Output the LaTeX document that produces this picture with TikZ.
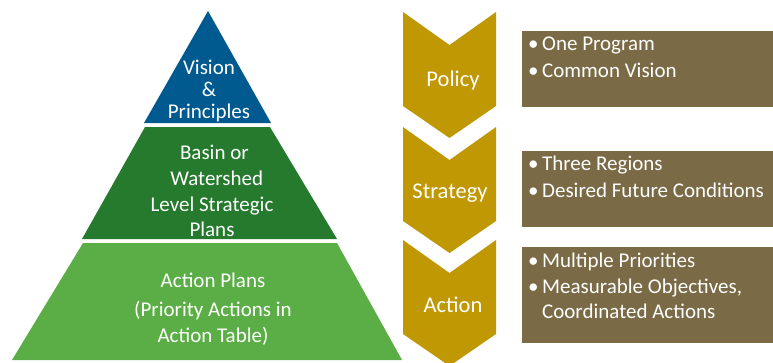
\documentclass[tikz,border=0pt]{standalone}
\usepackage{fontspec}
\setmainfont{Carlito}
\definecolor{tierblue}{RGB}{0,90,143}
\definecolor{tierdark}{RGB}{38,122,46}
\definecolor{tierlight}{RGB}{91,174,69}
\definecolor{chevgold}{RGB}{191,152,3}
\definecolor{boxbrown}{RGB}{122,106,69}
\tikzset{%
    tiertext/.style={%
        text=white, align=center,
        font=\fontsize{21}{25.7}\selectfont
    },
    chevtext/.style={%
        text=white, font=\fontsize{22.5}{27}\selectfont
    },
    bullettext/.style={%
        text=white, anchor=west, inner sep=0pt,
        text height=0.7em, text depth=0.2em,
        font=\fontsize{21}{26}\selectfont
    }
}
\newcommand{\bul}{\textbullet\kern3.5pt}

\begin{document}
\begin{tikzpicture}[x=1pt, y=-1pt]
\clip (0,0) rectangle (773,362);
% pyramid
\fill[tierblue] (208,11) -- (271,123) -- (144,123) -- cycle;
\fill[tierdark] (145,127) -- (270,127) -- (337,239) -- (82,239) -- cycle;
\fill[tierlight] (83,243) -- (337,243) -- (402,360) -- (12,360) -- cycle;
\node[tiertext, font=\fontsize{21}{22}\selectfont] (vision) at (209,91) {Vision\\\&\\Principles};
\node[tiertext] (basin) at (212,191) {\ Basin or\\\ \ Watershed\\Level Strategic\\Plans};
\node[tiertext] (actionplans) at (213,309) {Action Plans\\[3pt](Priority Actions in\\Action Table)};
% chevrons
\foreach \t/\lab/\nm/\cx/\cy in {12/Policy/policy/453/80,
                                 127/Strategy/strategy/450/193,
                                 240/Action/action/453/305} {
    \fill[chevgold] (403,\t) -- (449.5,\t+33) -- (496,\t)
        -- (496,\t+94) -- (449.5,\t+126) -- (403,\t+94) -- cycle;
    \node[chevtext] (\nm) at (\cx,\cy) {\lab};
}
% boxes
\fill[boxbrown] (522,31) rectangle (773,107);
\fill[boxbrown] (522,151) rectangle (773,227);
\fill[boxbrown] (522,247) rectangle (773,343);
\node[bullettext] (oneprog) at (528,48) {\bul One Program};
\node[bullettext] (commonvis) at (528,75) {\bul Common Vision};
\node[bullettext] (threereg) at (528,168) {\bul Three Regions};
\node[bullettext] (desired) at (528,195) {\bul Desired Future Conditions};
\node[bullettext] (multiple) at (528,265) {\bul Multiple Priorities};
\node[bullettext] (measurable) at (528,291) {\bul Measurable Objectives,};
\node[bullettext] (coordinated) at (528,316) {\hphantom{\bul}Coordinated Actions};
\end{tikzpicture}
\end{document}
